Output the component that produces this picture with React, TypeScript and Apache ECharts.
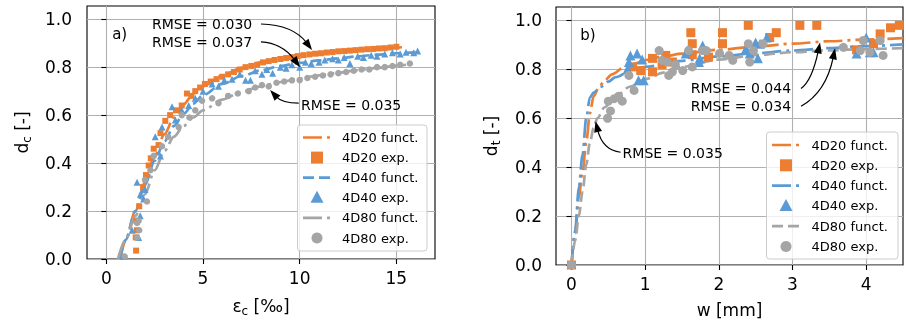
import React, { useEffect, useRef } from 'react';
import * as echarts from 'echarts';

const FONT = 'DejaVu Sans, sans-serif';
const ORANGE = '#ED7D31';
const BLUE = '#5B9BD5';
const GRAY = '#A5A5A5';

// ---------- panel a) compressive damage d_c vs strain eps_c [permille] ----------
const aTicksX = [0, 5, 10, 15];
const yTicks = [0, 0.2, 0.4, 0.6, 0.8, 1.0];

const aFunct20 = [[0.72, 0], [1, 0.08], [1.5, 0.2], [2, 0.32], [2.5, 0.43], [3, 0.52], [3.5, 0.59], [4, 0.645], [4.5, 0.69], [5, 0.72], [6, 0.765], [7, 0.797], [8, 0.82], [9, 0.836], [10, 0.849], [11, 0.858], [12, 0.866], [13, 0.872], [14, 0.877], [15, 0.882], [15.5, 0.884]];
const aFunct40 = [[0.7, 0], [1, 0.08], [1.5, 0.2], [2, 0.31], [2.5, 0.41], [3, 0.49], [3.5, 0.555], [4, 0.605], [4.5, 0.648], [5, 0.683], [6, 0.73], [7, 0.763], [8, 0.787], [9, 0.805], [10, 0.818], [11, 0.828], [12, 0.837], [13, 0.845], [14, 0.852], [15, 0.858], [16, 0.863]];
const aFunct80 = [[0.6, 0], [1, 0.08], [1.5, 0.18], [2, 0.27], [2.5, 0.37], [3, 0.45], [3.5, 0.51], [4, 0.555], [4.5, 0.59], [5, 0.62], [6, 0.665], [7, 0.697], [8, 0.72], [9, 0.738], [10, 0.753], [11, 0.766], [12, 0.777], [13, 0.788], [14, 0.797], [15, 0.806], [15.5, 0.81]];

const aExp20 = [[1.54, 0.035], [1.52, 0.09], [1.58, 0.12], [1.55, 0.16], [1.7, 0.22], [1.9, 0.3], [2.05, 0.35], [2.19, 0.39], [2.3, 0.42], [2.45, 0.46], [2.7, 0.475], [2.8, 0.525], [3.05, 0.576], [3.3, 0.6], [3.6, 0.62], [3.9, 0.64], [4.17, 0.69], [4.4, 0.68], [4.6, 0.7], [4.85, 0.715], [5.1, 0.73], [5.4, 0.74], [5.7, 0.75], [6.0, 0.76], [6.3, 0.77], [6.6, 0.78], [6.9, 0.79], [7.2, 0.8], [7.5, 0.805], [7.8, 0.81], [8.1, 0.82], [8.4, 0.825], [8.7, 0.83], [9.0, 0.834], [9.3, 0.838], [9.6, 0.842], [9.9, 0.846], [10.2, 0.85], [10.5, 0.853], [10.8, 0.856], [11.1, 0.858], [11.4, 0.861], [11.7, 0.863], [12.0, 0.866], [12.3, 0.867], [12.6, 0.869], [12.9, 0.871], [13.2, 0.873], [13.5, 0.875], [13.8, 0.876], [14.1, 0.878], [14.4, 0.879], [14.7, 0.882], [15.0, 0.885]];
const aExp40 = [[0.9, 0.01], [1.33, 0.12], [1.67, 0.09], [1.59, 0.32], [1.76, 0.27], [1.93, 0.25], [2.0, 0.29], [1.75, 0.18], [2.53, 0.51], [2.88, 0.55], [2.8, 0.43], [3.4, 0.635], [3.57, 0.58], [3.9, 0.62], [4.26, 0.64], [4.6, 0.67], [5.0, 0.7], [5.47, 0.73], [5.8, 0.72], [6.1, 0.745], [6.5, 0.75], [6.9, 0.77], [7.2, 0.745], [7.45, 0.745], [7.7, 0.785], [8.05, 0.77], [8.3, 0.79], [8.6, 0.775], [9.0, 0.8], [9.3, 0.795], [9.6, 0.81], [10.0, 0.8], [10.3, 0.82], [10.6, 0.815], [11.0, 0.82], [11.3, 0.83], [11.7, 0.835], [12.0, 0.83], [12.3, 0.84], [12.6, 0.815], [13.0, 0.845], [13.3, 0.84], [13.7, 0.85], [14.0, 0.845], [14.4, 0.855], [14.8, 0.86], [15.2, 0.855], [15.5, 0.862], [15.9, 0.86], [16.1, 0.867]];
const aExp80 = [[0.95, 0.01], [1.59, 0.09], [1.59, 0.15], [1.67, 0.16], [1.7, 0.12], [2.0, 0.33], [2.1, 0.24], [2.28, 0.37], [2.45, 0.43], [2.88, 0.47], [3.2, 0.51], [3.74, 0.55], [3.9, 0.6], [4.3, 0.59], [4.6, 0.62], [4.95, 0.66], [5.47, 0.67], [5.8, 0.65], [6.3, 0.68], [6.8, 0.69], [7.36, 0.7], [7.7, 0.715], [8.05, 0.725], [8.4, 0.72], [8.8, 0.735], [9.2, 0.74], [9.6, 0.745], [10.0, 0.746], [10.4, 0.755], [10.8, 0.76], [11.2, 0.765], [11.6, 0.77], [12.0, 0.775], [12.4, 0.78], [12.8, 0.785], [13.2, 0.79], [13.6, 0.79], [14.0, 0.8], [14.4, 0.8], [14.8, 0.805], [15.2, 0.81], [15.7, 0.815]];

// ---------- panel b) tensile damage d_t vs crack width w [mm] ----------
const bTicksX = [0, 1, 2, 3, 4];

const bFunct20 = [[0, 0], [0.05, 0.13], [0.1, 0.28], [0.15, 0.38], [0.2, 0.5], [0.25, 0.62], [0.3, 0.69], [0.37, 0.725], [0.45, 0.755], [0.55, 0.78], [0.7, 0.805], [0.85, 0.823], [1.0, 0.838], [1.25, 0.853], [1.5, 0.864], [2.0, 0.88], [2.5, 0.893], [3.0, 0.905], [3.5, 0.915], [4.0, 0.922], [4.5, 0.928]];
const bFunct40 = [[0, 0], [0.05, 0.14], [0.1, 0.32], [0.15, 0.45], [0.2, 0.6], [0.25, 0.685], [0.3, 0.705], [0.4, 0.728], [0.5, 0.75], [0.6, 0.768], [0.8, 0.793], [1.0, 0.81], [1.5, 0.835], [2.0, 0.853], [2.5, 0.866], [3.0, 0.877], [3.5, 0.887], [4.0, 0.895], [4.5, 0.902]];
const bFunct80 = [[0, 0], [0.05, 0.1], [0.1, 0.2], [0.15, 0.3], [0.2, 0.41], [0.25, 0.5], [0.3, 0.56], [0.35, 0.6], [0.45, 0.645], [0.6, 0.69], [0.8, 0.73], [1.0, 0.76], [1.25, 0.787], [1.5, 0.81], [2.0, 0.84], [2.5, 0.858], [3.0, 0.87], [3.5, 0.878], [4.0, 0.883], [4.5, 0.887]];

const bExp20 = [[0, 0], [0.83, 0.81], [0.94, 0.795], [1.1, 0.79], [1.1, 0.845], [1.23, 0.82], [1.28, 0.857], [1.37, 0.83], [1.62, 0.95], [1.64, 0.905], [1.64, 0.86], [1.86, 0.85], [2.05, 0.95], [2.05, 0.905], [2.4, 0.98], [2.69, 0.93], [2.78, 0.95], [3.1, 0.98], [3.33, 0.98], [3.87, 0.88], [4.1, 0.905], [4.19, 0.945], [4.33, 0.97], [4.45, 0.98]];
const bExp40 = [[0.78, 0.83], [0.8, 0.857], [0.89, 0.865], [0.96, 0.84], [0.76, 0.8], [0.91, 0.755], [0.98, 0.755], [1.55, 0.865], [1.57, 0.877], [1.73, 0.83], [1.74, 0.845], [1.78, 0.898], [2.37, 0.885], [2.42, 0.865], [2.5, 0.91], [2.53, 0.845], [2.56, 0.905], [2.65, 0.93], [3.87, 0.865], [4.0, 0.93], [4.05, 0.87], [4.1, 0.87]];
const bExp80 = [[0, 0], [0.49, 0.6], [0.5, 0.67], [0.53, 0.63], [0.58, 0.68], [0.64, 0.69], [0.69, 0.67], [0.78, 0.775], [0.85, 0.714], [1.19, 0.877], [1.23, 0.837], [1.3, 0.83], [1.32, 0.775], [1.37, 0.79], [1.41, 0.82], [1.51, 0.795], [1.59, 0.877], [1.64, 0.81], [1.78, 0.877], [1.83, 0.877], [2.01, 0.865], [2.14, 0.857], [2.19, 0.837], [2.4, 0.905], [2.42, 0.83], [2.47, 0.877], [2.6, 0.905], [3.69, 0.89], [3.92, 0.877], [3.96, 0.918], [4.05, 0.87], [4.19, 0.918], [4.23, 0.857]];

// annotations: text anchor (left, middle), arrow start, control, tip (data coords)
const annA = [
  { text: 'RMSE = 0.030', tx: 2.36, ty: 0.98, sx: 8.0, sy: 0.98, cx: 9.66, cy: 0.976, ex: 10.64, ey: 0.872 },
  { text: 'RMSE = 0.037', tx: 2.36, ty: 0.905, sx: 8.0, sy: 0.905, cx: 9.09, cy: 0.9, ex: 10.02, ey: 0.8 },
  { text: 'RMSE = 0.035', tx: 10.07, ty: 0.642, sx: 9.95, sy: 0.65, cx: 9.09, cy: 0.65, ex: 8.47, ey: 0.705 },
];
const annB = [
  { text: 'RMSE = 0.044', tx: 1.62, ty: 0.722, sx: 3.116, sy: 0.722, cx: 3.265, cy: 0.755, ex: 3.374, ey: 0.91 },
  { text: 'RMSE = 0.034', tx: 1.62, ty: 0.649, sx: 3.116, sy: 0.649, cx: 3.456, cy: 0.706, ex: 3.578, ey: 0.886 },
  { text: 'RMSE = 0.035', tx: 0.694, ty: 0.457, sx: 0.667, sy: 0.461, cx: 0.422, cy: 0.469, ex: 0.327, ey: 0.588 },
];

const DASHDOT = [19, 5, 3, 5];
const DASHED = [11, 5];

const legendA = [
  { name: '4D20 funct.', kind: 'line', color: ORANGE, dash: DASHDOT },
  { name: '4D20 exp.', kind: 'rect', color: ORANGE },
  { name: '4D40 funct.', kind: 'line', color: BLUE, dash: DASHED },
  { name: '4D40 exp.', kind: 'triangle', color: BLUE },
  { name: '4D80 funct.', kind: 'line', color: GRAY, dash: DASHDOT },
  { name: '4D80 exp.', kind: 'circle', color: GRAY },
];
const legendB = [
  { name: '4D20 funct.', kind: 'line', color: ORANGE, dash: DASHDOT },
  { name: '4D20 exp.', kind: 'rect', color: ORANGE },
  { name: '4D40 funct.', kind: 'line', color: BLUE, dash: DASHDOT },
  { name: '4D40 exp.', kind: 'triangle', color: BLUE },
  { name: '4D80 funct.', kind: 'line', color: GRAY, dash: DASHED },
  { name: '4D80 exp.', kind: 'circle', color: GRAY },
];

const richName = {
  m: { fontSize: 17, fontFamily: FONT, color: '#000' },
  s: { fontSize: 12, fontFamily: FONT, color: '#000', padding: [10, 0, 0, 0] },
};

function xAxis(gridIndex: number, min: number, max: number, ticks: number[], name: string) {
  return {
    type: 'value', gridIndex, min, max,
    axisLine: { show: false },
    axisTick: { show: true, length: 5, customValues: ticks, lineStyle: { color: '#000', width: 1.1 } },
    axisLabel: { customValues: ticks, fontSize: 17, fontFamily: FONT, color: '#000', margin: 10, formatter: (v: number) => String(v) },
    splitLine: { show: true, lineStyle: { color: '#b0b0b0', width: 1.1 } },
    name, nameLocation: 'middle', nameGap: 36,
    nameTextStyle: { fontSize: 17, fontFamily: FONT, color: '#000', rich: richName },
  };
}
function yAxis(gridIndex: number, name: string, margin: number) {
  return {
    type: 'value', gridIndex, min: 0, max: 1.055,
    axisLine: { show: false },
    axisTick: { show: true, length: 5, customValues: yTicks, lineStyle: { color: '#000', width: 1.1 } },
    axisLabel: { customValues: yTicks, fontSize: 17, fontFamily: FONT, color: '#000', margin, formatter: (v: number) => v.toFixed(1) },
    splitLine: { show: true, lineStyle: { color: '#b0b0b0', width: 1.1 } },
    name, nameLocation: 'middle', nameGap: 54,
    nameTextStyle: { fontSize: 17, fontFamily: FONT, color: '#000', rich: richName },
  };
}

function lineSeries(name: string, data: number[][], color: string, dash: number[], idx: number) {
  return {
    type: 'line', name, data, xAxisIndex: idx, yAxisIndex: idx,
    showSymbol: false, symbol: 'none', smooth: 0.3, smoothMonotone: 'x',
    lineStyle: { color, width: 2.7, type: dash }, silent: true, z: 2,
  };
}
function scatterSeries(name: string, data: number[][], color: string, symbol: string, size: number, idx: number) {
  return {
    type: 'scatter', name, data, xAxisIndex: idx, yAxisIndex: idx,
    symbol, symbolSize: size, itemStyle: { color, opacity: 1 }, silent: true, z: 3,
  };
}

export default function App() {
  const ref = useRef<HTMLDivElement>(null);
  useEffect(() => {
    const chart = echarts.init(ref.current!, null, { renderer: 'svg' });
    chart.setOption({
      animation: false,
      textStyle: { fontFamily: FONT },
      grid: [
        { left: 87, top: 6, width: 348, height: 253, show: true, borderColor: '#000', borderWidth: 1.1, backgroundColor: 'transparent' },
        { left: 556, top: 7, width: 347, height: 258, show: true, borderColor: '#000', borderWidth: 1.1, backgroundColor: 'transparent' },
      ],
      xAxis: [
        xAxis(0, -1, 17, aTicksX, '{m|ε}{s|c}{m| [‰]}'),
        xAxis(1, -0.21, 4.5, bTicksX, '{m|w [mm]}'),
      ],
      yAxis: [
        yAxis(0, '{m|d}{s|c}{m| [-]}', 15),
        yAxis(1, '{m|d}{s|t}{m| [-]}', 14),
      ],
      series: [
        lineSeries('4D20 funct.', aFunct20, ORANGE, DASHDOT, 0),
        scatterSeries('4D20 exp.', aExp20, ORANGE, 'rect', 6, 0),
        lineSeries('4D40 funct.', aFunct40, BLUE, DASHED, 0),
        scatterSeries('4D40 exp.', aExp40, BLUE, 'triangle', 7, 0),
        lineSeries('4D80 funct.', aFunct80, GRAY, DASHDOT, 0),
        scatterSeries('4D80 exp.', aExp80, GRAY, 'circle', 6.5, 0),
        lineSeries('4D20 funct. ', bFunct20, ORANGE, DASHDOT, 1),
        scatterSeries('4D20 exp. ', bExp20, ORANGE, 'rect', 9, 1),
        lineSeries('4D40 funct. ', bFunct40, BLUE, DASHDOT, 1),
        scatterSeries('4D40 exp. ', bExp40, BLUE, 'triangle', 10, 1),
        lineSeries('4D80 funct. ', bFunct80, GRAY, DASHED, 1),
        scatterSeries('4D80 exp. ', bExp80, GRAY, 'circle', 9, 1),
      ],
    });

    const graphics: any[] = [];
    const P = (g: number, x: number, y: number) => chart.convertToPixel({ gridIndex: g } as any, [x, y]) as number[];

    const addAnn = (g: number, list: any[]) => {
      list.forEach((a) => {
        const t = P(g, a.tx, a.ty);
        const s = P(g, a.sx, a.sy);
        const c = P(g, a.cx, a.cy);
        const e = P(g, a.ex, a.ey);
        graphics.push({ type: 'text', silent: true, z: 20, style: { text: a.text, x: t[0], y: t[1], fill: '#000', fontSize: 14, fontFamily: FONT, align: 'left', verticalAlign: 'middle' } });
        let dx = e[0] - c[0], dy = e[1] - c[1];
        const len = Math.hypot(dx, dy) || 1; dx /= len; dy /= len;
        const L = 11, W = 4;
        const bx = e[0] - dx * L, by = e[1] - dy * L;
        graphics.push({ type: 'bezierCurve', silent: true, z: 19, shape: { x1: s[0], y1: s[1], cpx1: c[0], cpy1: c[1], x2: bx + dx * 2, y2: by + dy * 2 }, style: { stroke: '#000', lineWidth: 1.2, fill: null } });
        graphics.push({ type: 'polygon', silent: true, z: 19, shape: { points: [[e[0], e[1]], [bx - dy * W, by + dx * W], [bx + dy * W, by - dx * W]] }, style: { fill: '#000' } });
      });
    };
    addAnn(0, annA);
    addAnn(1, annB);

    // panel labels
    const la = P(0, 0.3, 0.94);
    graphics.push({ type: 'text', silent: true, z: 20, style: { text: 'a)', x: la[0], y: la[1], fill: '#000', fontSize: 15, fontFamily: FONT, verticalAlign: 'middle' } });
    const lb = P(1, 0.12, 0.94);
    graphics.push({ type: 'text', silent: true, z: 20, style: { text: 'b)', x: lb[0], y: lb[1], fill: '#000', fontSize: 15, fontFamily: FONT, verticalAlign: 'middle' } });

    const addLegend = (items: any[], box: { x: number; y: number; w: number; h: number }, y0: number, gap: number, cx: number, textX: number) => {
      graphics.push({ type: 'rect', silent: true, z: 30, shape: { x: box.x, y: box.y, width: box.w, height: box.h, r: 3 }, style: { fill: 'rgba(255,255,255,0.8)', stroke: '#cccccc', lineWidth: 1 } });
      items.forEach((it, i) => {
        const y = y0 + i * gap;
        if (it.kind === 'line') {
          graphics.push({ type: 'line', silent: true, z: 31, shape: { x1: cx - 14, y1: y, x2: cx + 14, y2: y }, style: { stroke: it.color, lineWidth: 2.7, lineDash: it.dash } });
        } else if (it.kind === 'rect') {
          graphics.push({ type: 'rect', silent: true, z: 31, shape: { x: cx - 6, y: y - 6, width: 12, height: 12 }, style: { fill: it.color } });
        } else if (it.kind === 'triangle') {
          graphics.push({ type: 'polygon', silent: true, z: 31, shape: { points: [[cx, y - 7], [cx + 6.5, y + 5], [cx - 6.5, y + 5]] }, style: { fill: it.color } });
        } else {
          graphics.push({ type: 'circle', silent: true, z: 31, shape: { cx, cy: y, r: 5.5 }, style: { fill: it.color } });
        }
        graphics.push({ type: 'text', silent: true, z: 31, style: { text: it.name, x: textX, y, fill: '#000', fontSize: 13, fontFamily: FONT, verticalAlign: 'middle' } });
      });
    };
    addLegend(legendA, { x: 297.5, y: 125, w: 129.5, h: 126 }, 137.5, 20.1, 317, 342);
    addLegend(legendB, { x: 766.5, y: 132, w: 131.5, h: 127 }, 145, 20.3, 786, 811.5);

    chart.setOption({ graphic: graphics });
    return () => chart.dispose();
  }, []);
  return <div ref={ref} style={{ position: 'fixed', left: 0, top: 0, width: 906, height: 328 }} />;
}
